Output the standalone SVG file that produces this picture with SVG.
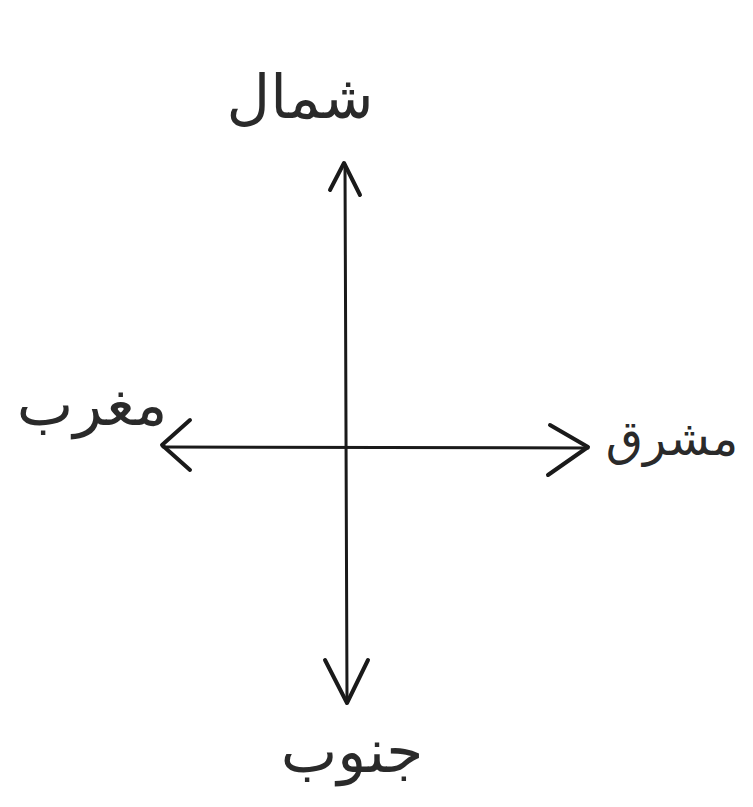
<svg xmlns="http://www.w3.org/2000/svg" width="753" height="807" viewBox="0 0 753 807">
<style>
.lbl{font-family:"DejaVu Sans","Noto Sans",sans-serif;font-size:60px;fill:#2a2a2a;text-anchor:middle}
.ln{stroke:#1a1a1a;fill:none;stroke-linecap:round;stroke-linejoin:round}
</style>
<rect width="753" height="807" fill="#fff"/>
<g id="connectors">
<path class="ln" stroke-width="3" d="M345 165 L347 700"/>
<path class="ln" stroke-width="3" d="M163 447 L588 448"/>
<path class="ln" stroke-width="4" d="M330 190 L344 163 L360 195"/>
<path class="ln" stroke-width="4" d="M190 420 L162 445 L190 470"/>
<path class="ln" stroke-width="4" d="M550 425 L588 447 L548 475"/>
<path class="ln" stroke-width="4" d="M325 660 L347 703 L368 660"/>
</g>
<g id="north"><text class="lbl" x="300" y="118">شمال</text></g>
<g id="west"><text class="lbl" x="92" y="425">مغرب</text></g>
<g id="east"><text class="lbl" x="672" y="455" style="font-size:48px">مشرق</text></g>
<g id="south"><text class="lbl" x="352" y="772">جنوب</text></g>
</svg>
